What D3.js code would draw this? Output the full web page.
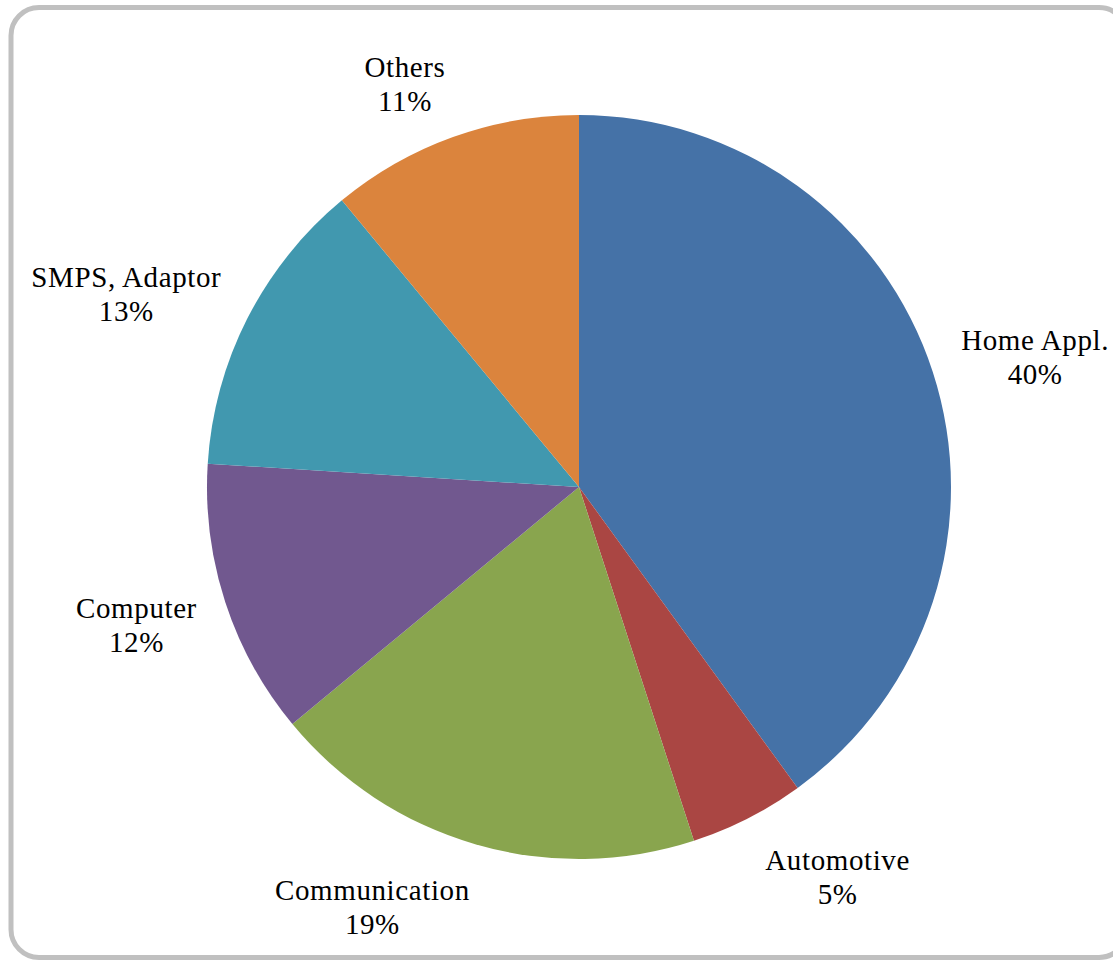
<!DOCTYPE html>
<html>
<head>
<meta charset="utf-8">
<script src="https://cdn.jsdelivr.net/npm/d3@7"></script>
<style>
  html, body { margin: 0; padding: 0; background: #fff; }
  svg { display: block; }
</style>
</head>
<body>
<svg id="chart" width="1113" height="961"></svg>
<script>
const categories = ["Home Appl.", "Automotive", "Communication", "Computer", "SMPS, Adaptor", "Others"];
const values = [40, 5, 19, 12, 13, 11];
const percentLabels = ["40%", "5%", "19%", "12%", "13%", "11%"];
const colors = ["#4572A7", "#AA4643", "#89A54E", "#71588F", "#4198AF", "#DB843D"];

const W = 1113, H = 961;
const cx = 579, cy = 487, r = 372;
const svg = d3.select("#chart");

// frame
svg.append("rect")
  .attr("x", 11).attr("y", 7.5)
  .attr("width", 1116).attr("height", 950)
  .attr("rx", 28).attr("ry", 28)
  .attr("fill", "#fff")
  .attr("stroke", "#c0c0c0")
  .attr("stroke-width", 5);

const data = categories.map((c, i) => ({ name: c, value: values[i], pct: percentLabels[i], color: colors[i] }));

const pie = d3.pie().value(d => d.value).sort(null);
const arcs = pie(data);
const arc = d3.arc().innerRadius(0).outerRadius(r);

const g = svg.append("g").attr("transform", `translate(${cx},${cy})`);
g.selectAll("path.slice")
  .data(arcs)
  .join("path")
  .attr("class", "slice")
  .attr("d", arc)
  .attr("fill", d => d.data.color);

// labels outside end
const labelR = r + 34;
const lineGap = 34;
const capH = 20;
const lg = g.append("g")
  .attr("font-family", "'Liberation Serif', 'Times New Roman', serif")
  .attr("font-size", 29)
  .attr("letter-spacing", 0.6)
  .attr("fill", "#000");

arcs.forEach(d => {
  const a = (d.startAngle + d.endAngle) / 2;
  const s = Math.sin(a), c = Math.cos(a);
  const t = lg.append("text").attr("text-anchor", "middle");
  const t1 = t.append("tspan").attr("x", 0).text(d.data.name);
  const t2 = t.append("tspan").attr("x", 0).attr("dy", lineGap).text(d.data.pct);
  const w = Math.max(t1.node().getComputedTextLength(), t2.node().getComputedTextLength());
  const h = capH + lineGap;
  let x = labelR * s + Math.sign(s) * (w / 2 - 1) + 3;
  const maxRight = W - cx - 4;
  if (x + w / 2 > maxRight) x = maxRight - w / 2;
  const yc = -labelR * c - c * (h / 2) + 4;
  const baseline1 = yc - (lineGap - capH) / 2;
  t.attr("transform", `translate(${x},${baseline1})`);
});
</script>
</body>
</html>
